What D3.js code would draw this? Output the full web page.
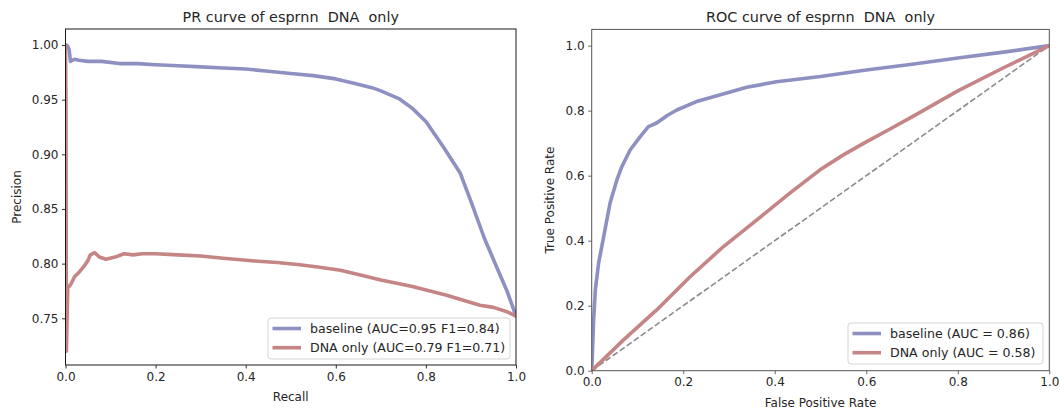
<!DOCTYPE html>
<html>
<head>
<meta charset="utf-8">
<script src="https://cdn.jsdelivr.net/npm/d3@7"></script>
<style>
  body { margin: 0; background: #fff; }
  text { font-family: "DejaVu Sans", sans-serif; fill: #262626; }
</style>
</head>
<body>
<svg id="chart" width="1060" height="418"></svg>
<script>
// ---- data ----
const prTitle = "PR curve of esprnn\u00a0\u00a0DNA\u00a0\u00a0only";
const rocTitle = "ROC curve of esprnn\u00a0\u00a0DNA\u00a0\u00a0only";

const seriesNames = ["baseline", "DNA only"];
const prLegend = ["baseline (AUC=0.95 F1=0.84)", "DNA only (AUC=0.79 F1=0.71)"];
const rocLegend = ["baseline (AUC = 0.86)", "DNA only (AUC = 0.58)"];

const prRecallBase = [0, 0.002, 0.005, 0.008, 0.011, 0.02, 0.03, 0.05, 0.08, 0.12, 0.16, 0.2, 0.25, 0.3, 0.35, 0.4, 0.45, 0.5, 0.55, 0.6, 0.64, 0.68, 0.7, 0.74, 0.77, 0.8, 0.84, 0.876, 0.9, 0.93, 0.957, 0.98, 1.0];
const prPrecBase   = [1.0, 1.0, 0.999, 0.996, 0.985, 0.987, 0.986, 0.985, 0.985, 0.983, 0.983, 0.982, 0.981, 0.980, 0.979, 0.978, 0.976, 0.974, 0.972, 0.969, 0.965, 0.961, 0.958, 0.951, 0.942, 0.930, 0.906, 0.883, 0.857, 0.823, 0.797, 0.775, 0.752];

const prRecallDna = [0, 0.001, 0.002, 0.003, 0.005, 0.008, 0.013, 0.02, 0.03, 0.04, 0.05, 0.055, 0.065, 0.075, 0.09, 0.11, 0.13, 0.15, 0.17, 0.2, 0.25, 0.3, 0.35, 0.42, 0.47, 0.52, 0.56, 0.61, 0.65, 0.7, 0.77, 0.846, 0.92, 0.95, 0.98, 1.0];
const prPrecDna   = [1.0, 0.95, 0.72, 0.74, 0.778, 0.779, 0.782, 0.788, 0.792, 0.797, 0.803, 0.808, 0.810, 0.806, 0.804, 0.806, 0.809, 0.808, 0.809, 0.809, 0.808, 0.807, 0.805, 0.8024, 0.801, 0.799, 0.797, 0.794, 0.790, 0.785, 0.779, 0.771, 0.762, 0.760, 0.756, 0.752];

const rocFprBase = [0, 0.002, 0.004, 0.008, 0.015, 0.029, 0.04, 0.055, 0.065, 0.084, 0.106, 0.124, 0.142, 0.165, 0.186, 0.229, 0.266, 0.339, 0.404, 0.5, 0.6, 0.7, 0.8, 0.9, 1.0];
const rocTprBase = [0, 0.07, 0.15, 0.25, 0.33, 0.433, 0.515, 0.587, 0.625, 0.679, 0.72, 0.751, 0.762, 0.785, 0.802, 0.828, 0.843, 0.872, 0.889, 0.905, 0.925, 0.943, 0.962, 0.98, 1.0];

const rocFprDna = [0, 0.069, 0.142, 0.215, 0.288, 0.361, 0.433, 0.499, 0.55, 0.6, 0.65, 0.7, 0.8, 0.9, 1.0];
const rocTprDna = [0, 0.094, 0.187, 0.289, 0.382, 0.464, 0.546, 0.618, 0.664, 0.704, 0.742, 0.781, 0.861, 0.932, 1.0];

const prXTicks = [0, 0.2, 0.4, 0.6, 0.8, 1.0];
const prYTicks = [0.75, 0.80, 0.85, 0.90, 0.95, 1.00];
const rocTicks = [0, 0.2, 0.4, 0.6, 0.8, 1.0];

const colors = ["#8d90c0", "#c58585"];

const svg = d3.select("#chart");

function zip(xs, ys) { return xs.map((x, i) => [x, ys[i]]); }

function panel(opts) {
  const x = d3.scaleLinear().domain(opts.xDomain).range([opts.left, opts.right]);
  const y = d3.scaleLinear().domain(opts.yDomain).range([opts.bottom, opts.top]);
  const g = svg.append("g");

  g.append("clipPath").attr("id", opts.id)
    .append("rect")
    .attr("x", opts.left).attr("y", opts.top)
    .attr("width", opts.right - opts.left).attr("height", opts.bottom - opts.top);

  const plot = g.append("g").attr("clip-path", "url(#" + opts.id + ")");

  if (opts.diagonal) {
    plot.append("path")
      .attr("d", d3.line().x(d => x(d[0])).y(d => y(d[1]))([[0, 0], [1, 1]]))
      .attr("fill", "none").attr("stroke", "#8a8a8a")
      .attr("stroke-width", 1.6).attr("stroke-dasharray", "6,2.6");
  }

  const line = d3.line().x(d => x(d[0])).y(d => y(d[1]));
  opts.series.forEach((s, i) => {
    plot.append("path")
      .attr("d", line(s))
      .attr("fill", "none")
      .attr("stroke", colors[i])
      .attr("stroke-width", 3.6)
      .attr("stroke-linejoin", "round")
      .attr("stroke-linecap", "round");
  });

  // axes
  const xAxis = g.append("g")
    .attr("transform", "translate(0," + opts.bottom + ")")
    .call(d3.axisBottom(x).tickValues(opts.xTicks).tickFormat(d3.format(".1f")).tickSize(3.5).tickPadding(3.5).tickSizeOuter(0));
  const yAxis = g.append("g")
    .attr("transform", "translate(" + opts.left + ",0)")
    .call(d3.axisLeft(y).tickValues(opts.yTicks).tickFormat(d3.format(opts.yFormat)).tickSize(3.5).tickPadding(3.5).tickSizeOuter(0));
  [xAxis, yAxis].forEach(a => {
    a.select(".domain").remove();
    a.selectAll("line").attr("stroke", opts.frame).attr("stroke-width", 0.9);
    a.selectAll("text").attr("font-size", 12).style("fill", "#262626").attr("font-family", "DejaVu Sans, sans-serif");
  });

  g.append("rect")
    .attr("x", opts.left).attr("y", opts.top)
    .attr("width", opts.right - opts.left).attr("height", opts.bottom - opts.top)
    .attr("fill", "none").attr("stroke", opts.frame).attr("stroke-width", 1);

  // title and labels
  g.append("text")
    .attr("x", (opts.left + opts.right) / 2).attr("y", opts.top - 7)
    .attr("text-anchor", "middle").attr("font-size", 14.4)
    .text(opts.title);
  g.append("text")
    .attr("x", (opts.left + opts.right) / 2).attr("y", opts.xLabelY)
    .attr("text-anchor", "middle").attr("font-size", 12)
    .text(opts.xLabel);
  g.append("text")
    .attr("transform", "translate(" + opts.yLabelX + "," + ((opts.top + opts.bottom) / 2) + ") rotate(-90)")
    .attr("text-anchor", "middle").attr("font-size", 12)
    .text(opts.yLabel);

  // legend
  const L = opts.legend;
  const lg = g.append("g");
  lg.append("rect")
    .attr("x", L.x).attr("y", L.y).attr("width", L.w).attr("height", L.h)
    .attr("rx", 3).attr("fill", "#fff").attr("fill-opacity", 0.85)
    .attr("stroke", "#d4d4d4").attr("stroke-width", 1);
  opts.legendText.forEach((t, i) => {
    const ly = L.y + 10.5 + i * 19.2;
    lg.append("line")
      .attr("x1", L.x + 4.5).attr("x2", L.x + 33)
      .attr("y1", ly).attr("y2", ly)
      .attr("stroke", colors[i]).attr("stroke-width", 3.6);
    lg.append("text")
      .attr("x", L.x + 42).attr("y", ly + 4.3)
      .attr("font-size", 12.6)
      .text(t);
  });
}

panel({
  id: "clipPR",
  left: 65.5, right: 516, top: 29, bottom: 365,
  xDomain: [0, 1], yDomain: [0.70728, 1.01464],
  xTicks: prXTicks, yTicks: prYTicks, yFormat: ".2f",
  frame: "#1a1a1a",
  series: [zip(prRecallBase, prPrecBase), zip(prRecallDna, prPrecDna)],
  title: prTitle, xLabel: "Recall", yLabel: "Precision",
  xLabelY: 401, yLabelX: 21,
  legend: { x: 268, y: 318, w: 242, h: 41 },
  legendText: prLegend,
  diagonal: false
});

panel({
  id: "clipROC",
  left: 591.7, right: 1049.3, top: 29.4, bottom: 370.7,
  xDomain: [0, 1], yDomain: [0, 1.05],
  xTicks: rocTicks, yTicks: rocTicks, yFormat: ".1f",
  frame: "#555",
  series: [zip(rocFprBase, rocTprBase), zip(rocFprDna, rocTprDna)],
  title: rocTitle, xLabel: "False Positive Rate", yLabel: "True Positive Rate",
  xLabelY: 407, yLabelX: 554,
  legend: { x: 848, y: 323, w: 195, h: 41 },
  legendText: rocLegend,
  diagonal: true
});
</script>
</body>
</html>
